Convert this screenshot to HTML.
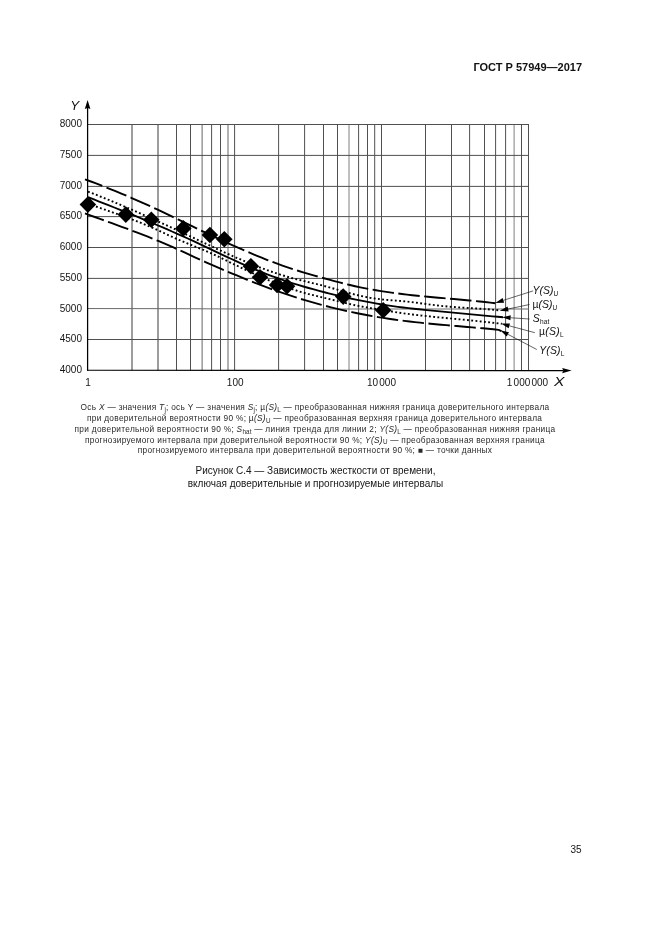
<!DOCTYPE html>
<html><head><meta charset="utf-8"><title>GOST</title>
<style>
html,body{margin:0;padding:0;background:#fff;}
body{width:661px;height:935px;position:relative;overflow:hidden;will-change:transform;font-family:"Liberation Sans",sans-serif;color:#111;}
.a{position:absolute;white-space:nowrap;line-height:1;}
.hdr{font-weight:bold;font-size:11px;right:79px;top:61.5px;color:#111;}
.yl{font-size:10px;right:579px;text-align:right;color:#151515;}
.xl{font-size:10px;transform:translateX(-50%);top:378.0px;color:#151515;}
.ax{font-style:italic;font-size:13.4px;color:#111;}
.lab{font-size:10.4px;font-style:italic;color:#111;}
.lab sub,.cap sub{font-style:normal;font-size:63%;vertical-align:baseline;position:relative;top:0.32em;line-height:0;}
.lab .n{font-style:normal;}
.cap{font-size:8.3px;letter-spacing:0.3px;transform:translateX(-50%);left:315px;color:#2a2a2a;}
.cap i{font-style:italic;}
.cap sub{font-size:76%;top:0.3em;letter-spacing:0.1px;}
.ttl{font-size:10px;transform:translateX(-50%);left:315.5px;color:#151515;}
.pn{font-size:10px;left:570.5px;top:845.1px;color:#151515;}
.g{display:inline-block;width:1.2px;}
svg{position:absolute;left:0;top:0;}
</style></head><body>
<div class="a hdr" id="hdr">ГОСТ Р 57949—2017</div>
<svg width="661" height="935" viewBox="0 0 661 935">
<g stroke="#505050" stroke-width="1.00" fill="none"><line x1="132.00" y1="124.00" x2="132.00" y2="370.40" stroke="#3a3a3a"/><line x1="158.00" y1="124.00" x2="158.00" y2="370.40" stroke="#3a3a3a"/><line x1="176.50" y1="124.00" x2="176.50" y2="370.40"/><line x1="190.50" y1="124.00" x2="190.50" y2="370.40"/><line x1="202.10" y1="124.00" x2="202.10" y2="370.40" stroke="#666"/><line x1="211.60" y1="124.00" x2="211.60" y2="370.40"/><line x1="220.50" y1="124.00" x2="220.50" y2="370.40"/><line x1="228.00" y1="124.00" x2="228.00" y2="370.40" stroke="#666"/><line x1="234.60" y1="124.00" x2="234.60" y2="370.40"/><line x1="278.60" y1="124.00" x2="278.60" y2="370.40"/><line x1="304.60" y1="124.00" x2="304.60" y2="370.40"/><line x1="323.50" y1="124.00" x2="323.50" y2="370.40"/><line x1="337.50" y1="124.00" x2="337.50" y2="370.40"/><line x1="349.00" y1="124.00" x2="349.00" y2="370.40" stroke="#808080"/><line x1="358.60" y1="124.00" x2="358.60" y2="370.40"/><line x1="367.50" y1="124.00" x2="367.50" y2="370.40"/><line x1="374.70" y1="124.00" x2="374.70" y2="370.40"/><line x1="381.50" y1="124.00" x2="381.50" y2="370.40"/><line x1="425.50" y1="124.00" x2="425.50" y2="370.40"/><line x1="451.50" y1="124.00" x2="451.50" y2="370.40"/><line x1="469.60" y1="124.00" x2="469.60" y2="370.40"/><line x1="484.50" y1="124.00" x2="484.50" y2="370.40"/><line x1="495.60" y1="124.00" x2="495.60" y2="370.40"/><line x1="505.60" y1="124.00" x2="505.60" y2="370.40"/><line x1="514.10" y1="124.00" x2="514.10" y2="370.40" stroke="#808080"/><line x1="521.50" y1="124.00" x2="521.50" y2="370.40"/><line x1="528.50" y1="124.00" x2="528.50" y2="370.40"/><line x1="88.00" y1="124.50" x2="529.00" y2="124.50"/><line x1="88.00" y1="155.40" x2="529.00" y2="155.40"/><line x1="88.00" y1="186.40" x2="529.00" y2="186.40"/><line x1="88.00" y1="216.60" x2="529.00" y2="216.60"/><line x1="88.00" y1="247.50" x2="529.00" y2="247.50"/><line x1="88.00" y1="278.40" x2="529.00" y2="278.40"/><path d="M88 308.55 L180 308.7 L240 309.0 L529 309.0" stroke="#6a6a6a"/><line x1="88.00" y1="339.50" x2="529.00" y2="339.50"/></g>
<g stroke="#000" fill="none">
<line x1="87.6" y1="107" x2="87.6" y2="370.8" stroke-width="1.25"/>
<line x1="87" y1="370.25" x2="563" y2="370.6" stroke-width="1.15"/>
</g>
<path d="M87.6 99.9 L90.4 108.9 L87.6 107.9 L84.8 108.9 Z" fill="#000"/>
<path d="M571.6 370.6 L562.2 373.2 L563.2 370.6 L562.2 368.0 Z" fill="#000"/>
<g stroke="#000" fill="none" stroke-linejoin="round">
<path d="M85.00 179.32 L90.19 181.24 L95.39 183.20 L100.58 185.19 L105.78 187.23 L110.97 189.31 L116.17 191.43 L121.36 193.58 L126.56 195.78 L131.75 198.01 L136.95 200.28 L142.14 202.59 L147.34 204.93 L152.53 207.31 L157.73 209.72 L162.92 212.17 L168.12 214.63 L173.31 217.12 L178.51 219.62 L183.70 222.12 L188.90 224.63 L194.09 227.14 L199.29 229.64 L204.48 232.13 L209.68 234.61 L214.87 237.06 L220.07 239.49 L225.26 241.90 L230.46 244.28 L235.65 246.62 L240.85 248.93 L246.04 251.19 L251.24 253.41 L256.43 255.59 L261.63 257.71 L266.82 259.77 L272.02 261.78 L277.21 263.71 L282.41 265.58 L287.60 267.38 L292.80 269.10 L297.99 270.74 L303.19 272.32 L308.38 273.84 L313.58 275.32 L318.77 276.77 L323.97 278.22 L329.16 279.65 L334.36 281.07 L339.55 282.45 L344.75 283.77 L349.94 285.03 L355.14 286.21 L360.33 287.32 L365.53 288.36 L370.72 289.33 L375.92 290.24 L381.11 291.09 L386.31 291.89 L391.50 292.64 L396.70 293.34 L401.89 293.99 L407.09 294.61 L412.28 295.19 L417.48 295.73 L422.67 296.25 L427.87 296.75 L433.06 297.23 L438.26 297.70 L443.45 298.16 L448.65 298.61 L453.84 299.06 L459.04 299.52 L464.23 299.99 L469.43 300.46 L474.62 300.96 L479.82 301.48 L485.01 302.02 L490.21 302.59 L495.40 303.20" stroke-width="1.9" stroke-dasharray="21.5 4.5" stroke-dashoffset="3"/>
<path d="M88.00 191.61 L93.22 193.66 L98.44 195.73 L103.66 197.84 L108.88 199.98 L114.10 202.15 L119.32 204.35 L124.54 206.57 L129.76 208.82 L134.98 211.09 L140.20 213.39 L145.42 215.71 L150.64 218.05 L155.86 220.41 L161.08 222.79 L166.30 225.18 L171.52 227.59 L176.74 230.02 L181.96 232.45 L187.18 234.90 L192.41 237.36 L197.63 239.83 L202.85 242.29 L208.07 244.75 L213.29 247.19 L218.51 249.61 L223.73 252.01 L228.95 254.38 L234.17 256.70 L239.39 258.99 L244.61 261.22 L249.83 263.39 L255.05 265.50 L260.27 267.55 L265.49 269.51 L270.71 271.40 L275.93 273.19 L281.15 274.89 L286.37 276.48 L291.59 277.97 L296.81 279.34 L302.03 280.62 L307.25 281.85 L312.47 283.07 L317.69 284.31 L322.91 285.62 L328.13 287.03 L333.35 288.51 L338.57 290.02 L343.79 291.53 L349.01 292.99 L354.23 294.36 L359.45 295.62 L364.67 296.73 L369.89 297.71 L375.11 298.55 L380.33 299.25 L385.55 299.83 L390.77 300.27 L395.99 300.62 L401.22 301.00 L406.44 301.49 L411.66 302.09 L416.88 302.75 L422.10 303.46 L427.32 304.17 L432.54 304.87 L437.76 305.51 L442.98 306.08 L448.20 306.57 L453.42 306.99 L458.64 307.37 L463.86 307.71 L469.08 308.03 L474.30 308.35 L479.52 308.69 L484.74 309.05 L489.96 309.47 L495.18 309.94 L500.40 310.49" stroke-width="1.9" stroke-dasharray="1.85 2.4"/>
<path d="M88.00 197.11 L93.25 199.21 L98.51 201.29 L103.76 203.37 L109.01 205.44 L114.27 207.51 L119.52 209.59 L124.77 211.69 L130.03 213.81 L135.28 215.95 L140.53 218.11 L145.78 220.30 L151.04 222.51 L156.29 224.73 L161.54 226.96 L166.80 229.21 L172.05 231.48 L177.30 233.78 L182.56 236.12 L187.81 238.51 L193.06 240.93 L198.32 243.39 L203.57 245.87 L208.82 248.36 L214.08 250.85 L219.33 253.34 L224.58 255.81 L229.84 258.26 L235.09 260.67 L240.34 263.05 L245.59 265.37 L250.85 267.63 L256.10 269.84 L261.35 271.98 L266.61 274.05 L271.86 276.05 L277.11 277.97 L282.37 279.82 L287.62 281.59 L292.87 283.29 L298.13 284.92 L303.38 286.50 L308.63 288.01 L313.89 289.48 L319.14 290.90 L324.39 292.27 L329.65 293.60 L334.90 294.89 L340.15 296.13 L345.41 297.33 L350.66 298.49 L355.91 299.60 L361.16 300.67 L366.42 301.69 L371.67 302.67 L376.92 303.59 L382.18 304.47 L387.43 305.30 L392.68 306.08 L397.94 306.81 L403.19 307.49 L408.44 308.12 L413.70 308.72 L418.95 309.28 L424.20 309.82 L429.46 310.35 L434.71 310.86 L439.96 311.37 L445.22 311.88 L450.47 312.39 L455.72 312.90 L460.97 313.41 L466.23 313.91 L471.48 314.41 L476.73 314.90 L481.99 315.39 L487.24 315.86 L492.49 316.33 L497.75 316.77 L503.00 317.21" stroke-width="1.85"/>
<path d="M88.00 203.54 L93.24 205.50 L98.48 207.40 L103.71 209.27 L108.95 211.11 L114.19 212.96 L119.43 214.81 L124.67 216.70 L129.90 218.62 L135.14 220.61 L140.38 222.68 L145.62 224.84 L150.86 227.10 L156.09 229.45 L161.33 231.85 L166.57 234.27 L171.81 236.68 L177.05 239.04 L182.28 241.31 L187.52 243.48 L192.76 245.60 L198.00 247.70 L203.24 249.84 L208.47 252.07 L213.71 254.42 L218.95 256.90 L224.19 259.45 L229.43 262.03 L234.66 264.61 L239.90 267.15 L245.14 269.65 L250.38 272.11 L255.62 274.52 L260.85 276.86 L266.09 279.13 L271.33 281.33 L276.57 283.44 L281.81 285.46 L287.04 287.37 L292.28 289.18 L297.52 290.87 L302.76 292.44 L307.99 293.88 L313.23 295.19 L318.47 296.44 L323.71 297.69 L328.95 298.96 L334.18 300.26 L339.42 301.55 L344.66 302.82 L349.90 304.05 L355.14 305.21 L360.37 306.28 L365.61 307.26 L370.85 308.18 L376.09 309.05 L381.33 309.89 L386.56 310.72 L391.80 311.55 L397.04 312.37 L402.28 313.16 L407.52 313.88 L412.75 314.55 L417.99 315.18 L423.23 315.76 L428.47 316.31 L433.71 316.84 L438.94 317.36 L444.18 317.86 L449.42 318.36 L454.66 318.86 L459.90 319.36 L465.13 319.86 L470.37 320.38 L475.61 320.90 L480.85 321.44 L486.09 322.00 L491.32 322.57 L496.56 323.18 L501.80 323.81" stroke-width="1.9" stroke-dasharray="1.85 2.4"/>
<path d="M85.00 213.39 L90.24 215.33 L95.47 217.24 L100.71 219.15 L105.94 221.05 L111.18 222.95 L116.41 224.86 L121.65 226.78 L126.88 228.71 L132.12 230.67 L137.35 232.65 L142.59 234.66 L147.83 236.72 L153.06 238.81 L158.30 240.96 L163.53 243.15 L168.77 245.40 L174.00 247.70 L179.24 250.06 L184.47 252.46 L189.71 254.88 L194.94 257.30 L200.18 259.69 L205.42 262.05 L210.65 264.36 L215.89 266.64 L221.12 268.89 L226.36 271.11 L231.59 273.30 L236.83 275.48 L242.06 277.64 L247.30 279.77 L252.53 281.86 L257.77 283.92 L263.01 285.93 L268.24 287.89 L273.48 289.81 L278.71 291.67 L283.95 293.47 L289.18 295.22 L294.42 296.91 L299.65 298.56 L304.89 300.14 L310.12 301.68 L315.36 303.16 L320.59 304.60 L325.83 305.98 L331.07 307.31 L336.30 308.59 L341.54 309.82 L346.77 311.00 L352.01 312.13 L357.24 313.21 L362.48 314.25 L367.71 315.24 L372.95 316.18 L378.18 317.08 L383.42 317.93 L388.66 318.73 L393.89 319.49 L399.13 320.21 L404.36 320.88 L409.60 321.51 L414.83 322.11 L420.07 322.68 L425.30 323.22 L430.54 323.73 L435.77 324.22 L441.01 324.70 L446.25 325.16 L451.48 325.61 L456.72 326.06 L461.95 326.50 L467.19 326.95 L472.42 327.39 L477.66 327.85 L482.89 328.32 L488.13 328.80 L493.36 329.31 L498.60 329.83 L501.6 331.2" stroke-width="1.9" stroke-dasharray="21.5 4.5" stroke-dashoffset="1.5"/>
</g>
<g fill="#000"><path d="M79.60 204.60 l8.30 -8.30 l8.30 8.30 l-8.30 8.30 Z"/><path d="M117.50 214.60 l8.30 -8.30 l8.30 8.30 l-8.30 8.30 Z"/><path d="M143.00 219.80 l8.30 -8.30 l8.30 8.30 l-8.30 8.30 Z"/><path d="M175.00 228.40 l8.30 -8.30 l8.30 8.30 l-8.30 8.30 Z"/><path d="M201.60 235.00 l8.30 -8.30 l8.30 8.30 l-8.30 8.30 Z"/><path d="M216.00 239.20 l8.30 -8.30 l8.30 8.30 l-8.30 8.30 Z"/><path d="M242.60 266.30 l8.30 -8.30 l8.30 8.30 l-8.30 8.30 Z"/><path d="M251.70 277.20 l8.30 -8.30 l8.30 8.30 l-8.30 8.30 Z"/><path d="M268.80 285.00 l8.30 -8.30 l8.30 8.30 l-8.30 8.30 Z"/><path d="M278.70 286.30 l8.30 -8.30 l8.30 8.30 l-8.30 8.30 Z"/><path d="M334.90 296.60 l8.30 -8.30 l8.30 8.30 l-8.30 8.30 Z"/><path d="M374.90 310.20 l8.30 -8.30 l8.30 8.30 l-8.30 8.30 Z"/></g>
<line x1="503.40" y1="300.30" x2="533.10" y2="290.90" stroke="#111" stroke-width="0.65"/><path d="M495.20 302.90 L504.14 302.64 L502.66 297.97 Z" fill="#000"/><line x1="508.11" y1="309.02" x2="529.50" y2="304.50" stroke="#111" stroke-width="0.65"/><path d="M499.70 310.80 L508.62 311.42 L507.61 306.62 Z" fill="#000"/><line x1="510.58" y1="317.76" x2="529.50" y2="319.00" stroke="#111" stroke-width="0.65"/><path d="M502.00 317.20 L510.42 320.21 L510.74 315.32 Z" fill="#000"/><line x1="509.31" y1="325.83" x2="534.90" y2="332.70" stroke="#111" stroke-width="0.65"/><path d="M501.00 323.60 L508.67 328.20 L509.94 323.46 Z" fill="#000"/><line x1="507.82" y1="334.30" x2="536.80" y2="349.50" stroke="#111" stroke-width="0.65"/><path d="M500.20 330.30 L506.68 336.46 L508.95 332.13 Z" fill="#000"/>
</svg>
<div class="a ax" id="axY" style="left:70.2px;top:99.4px;">Y</div>
<div class="a ax" id="axX" style="left:553.8px;top:375.2px;transform:scaleX(1.17);transform-origin:0 0;">X</div>
<div class="a yl" id="y8000" style="top:119.20px;">8000</div><div class="a yl" id="y7500" style="top:150.10px;">7500</div><div class="a yl" id="y7000" style="top:181.10px;">7000</div><div class="a yl" id="y6500" style="top:211.30px;">6500</div><div class="a yl" id="y6000" style="top:242.20px;">6000</div><div class="a yl" id="y5500" style="top:273.10px;">5500</div><div class="a yl" id="y5000" style="top:303.70px;">5000</div><div class="a yl" id="y4500" style="top:334.20px;">4500</div><div class="a yl" id="y4000" style="top:364.90px;">4000</div>
<div class="a xl" id="x1" style="left:88px;">1</div><div class="a xl" id="x2" style="left:235.2px;">100</div><div class="a xl" id="x3" style="left:381.5px;">10<span class="g"></span>000</div><div class="a xl" id="x4" style="left:527.5px;">1<span class="g"></span>000<span class="g"></span>000</div>
<div class="a lab" id="l1" style="left:532.6px;top:285.9px;">Y(S)<sub>U</sub></div>
<div class="a lab" id="l2" style="left:532.6px;top:299.6px;"><span class="n">µ</span>(S)<sub>U</sub></div>
<div class="a lab" id="l3" style="left:532.8px;top:314.1px;letter-spacing:0.2px;">S<sub>hat</sub></div>
<div class="a lab" id="l4" style="left:539px;top:327.3px;letter-spacing:0.3px;"><span class="n">µ</span>(S)<sub>L</sub></div>
<div class="a lab" id="l5" style="left:539.2px;top:346.0px;letter-spacing:0.2px;">Y(S)<sub>L</sub></div>
<div class="a cap" id="c1" style="top:403.4px;">Ось <i>X</i> — значения <i>T<sub>j</sub></i>; ось Y — значения <i>S<sub>j</sub></i>; µ<i>(S)</i><sub>L</sub> — преобразованная нижняя граница доверительного интервала</div>
<div class="a cap" id="c2" style="top:414.3px;left:314.6px;">при доверительной вероятности 90 %; µ<i>(S)</i><sub>U</sub> — преобразованная верхняя граница доверительного интервала</div>
<div class="a cap" id="c3" style="top:424.7px;letter-spacing:0.306px;">при доверительной вероятности 90 %; <i>S</i><sub>hat</sub> — линия тренда для линии 2; <i>Y(S)</i><sub>L</sub> — преобразованная нижняя граница</div>
<div class="a cap" id="c4" style="top:435.5px;">прогнозируемого интервала при доверительной вероятности 90 %; <i>Y(S)</i><sub>U</sub> — преобразованная верхняя граница</div>
<div class="a cap" id="c5" style="top:446.0px;">прогнозируемого интервала при доверительной вероятности 90 %; ■ — точки данных</div>
<div class="a ttl" id="t1" style="top:465.6px;">Рисунок С.4 — Зависимость жесткости от времени,</div>
<div class="a ttl" id="t2" style="top:478.9px;">включая доверительные и прогнозируемые интервалы</div>
<div class="a pn" id="pn">35</div>
</body></html>
